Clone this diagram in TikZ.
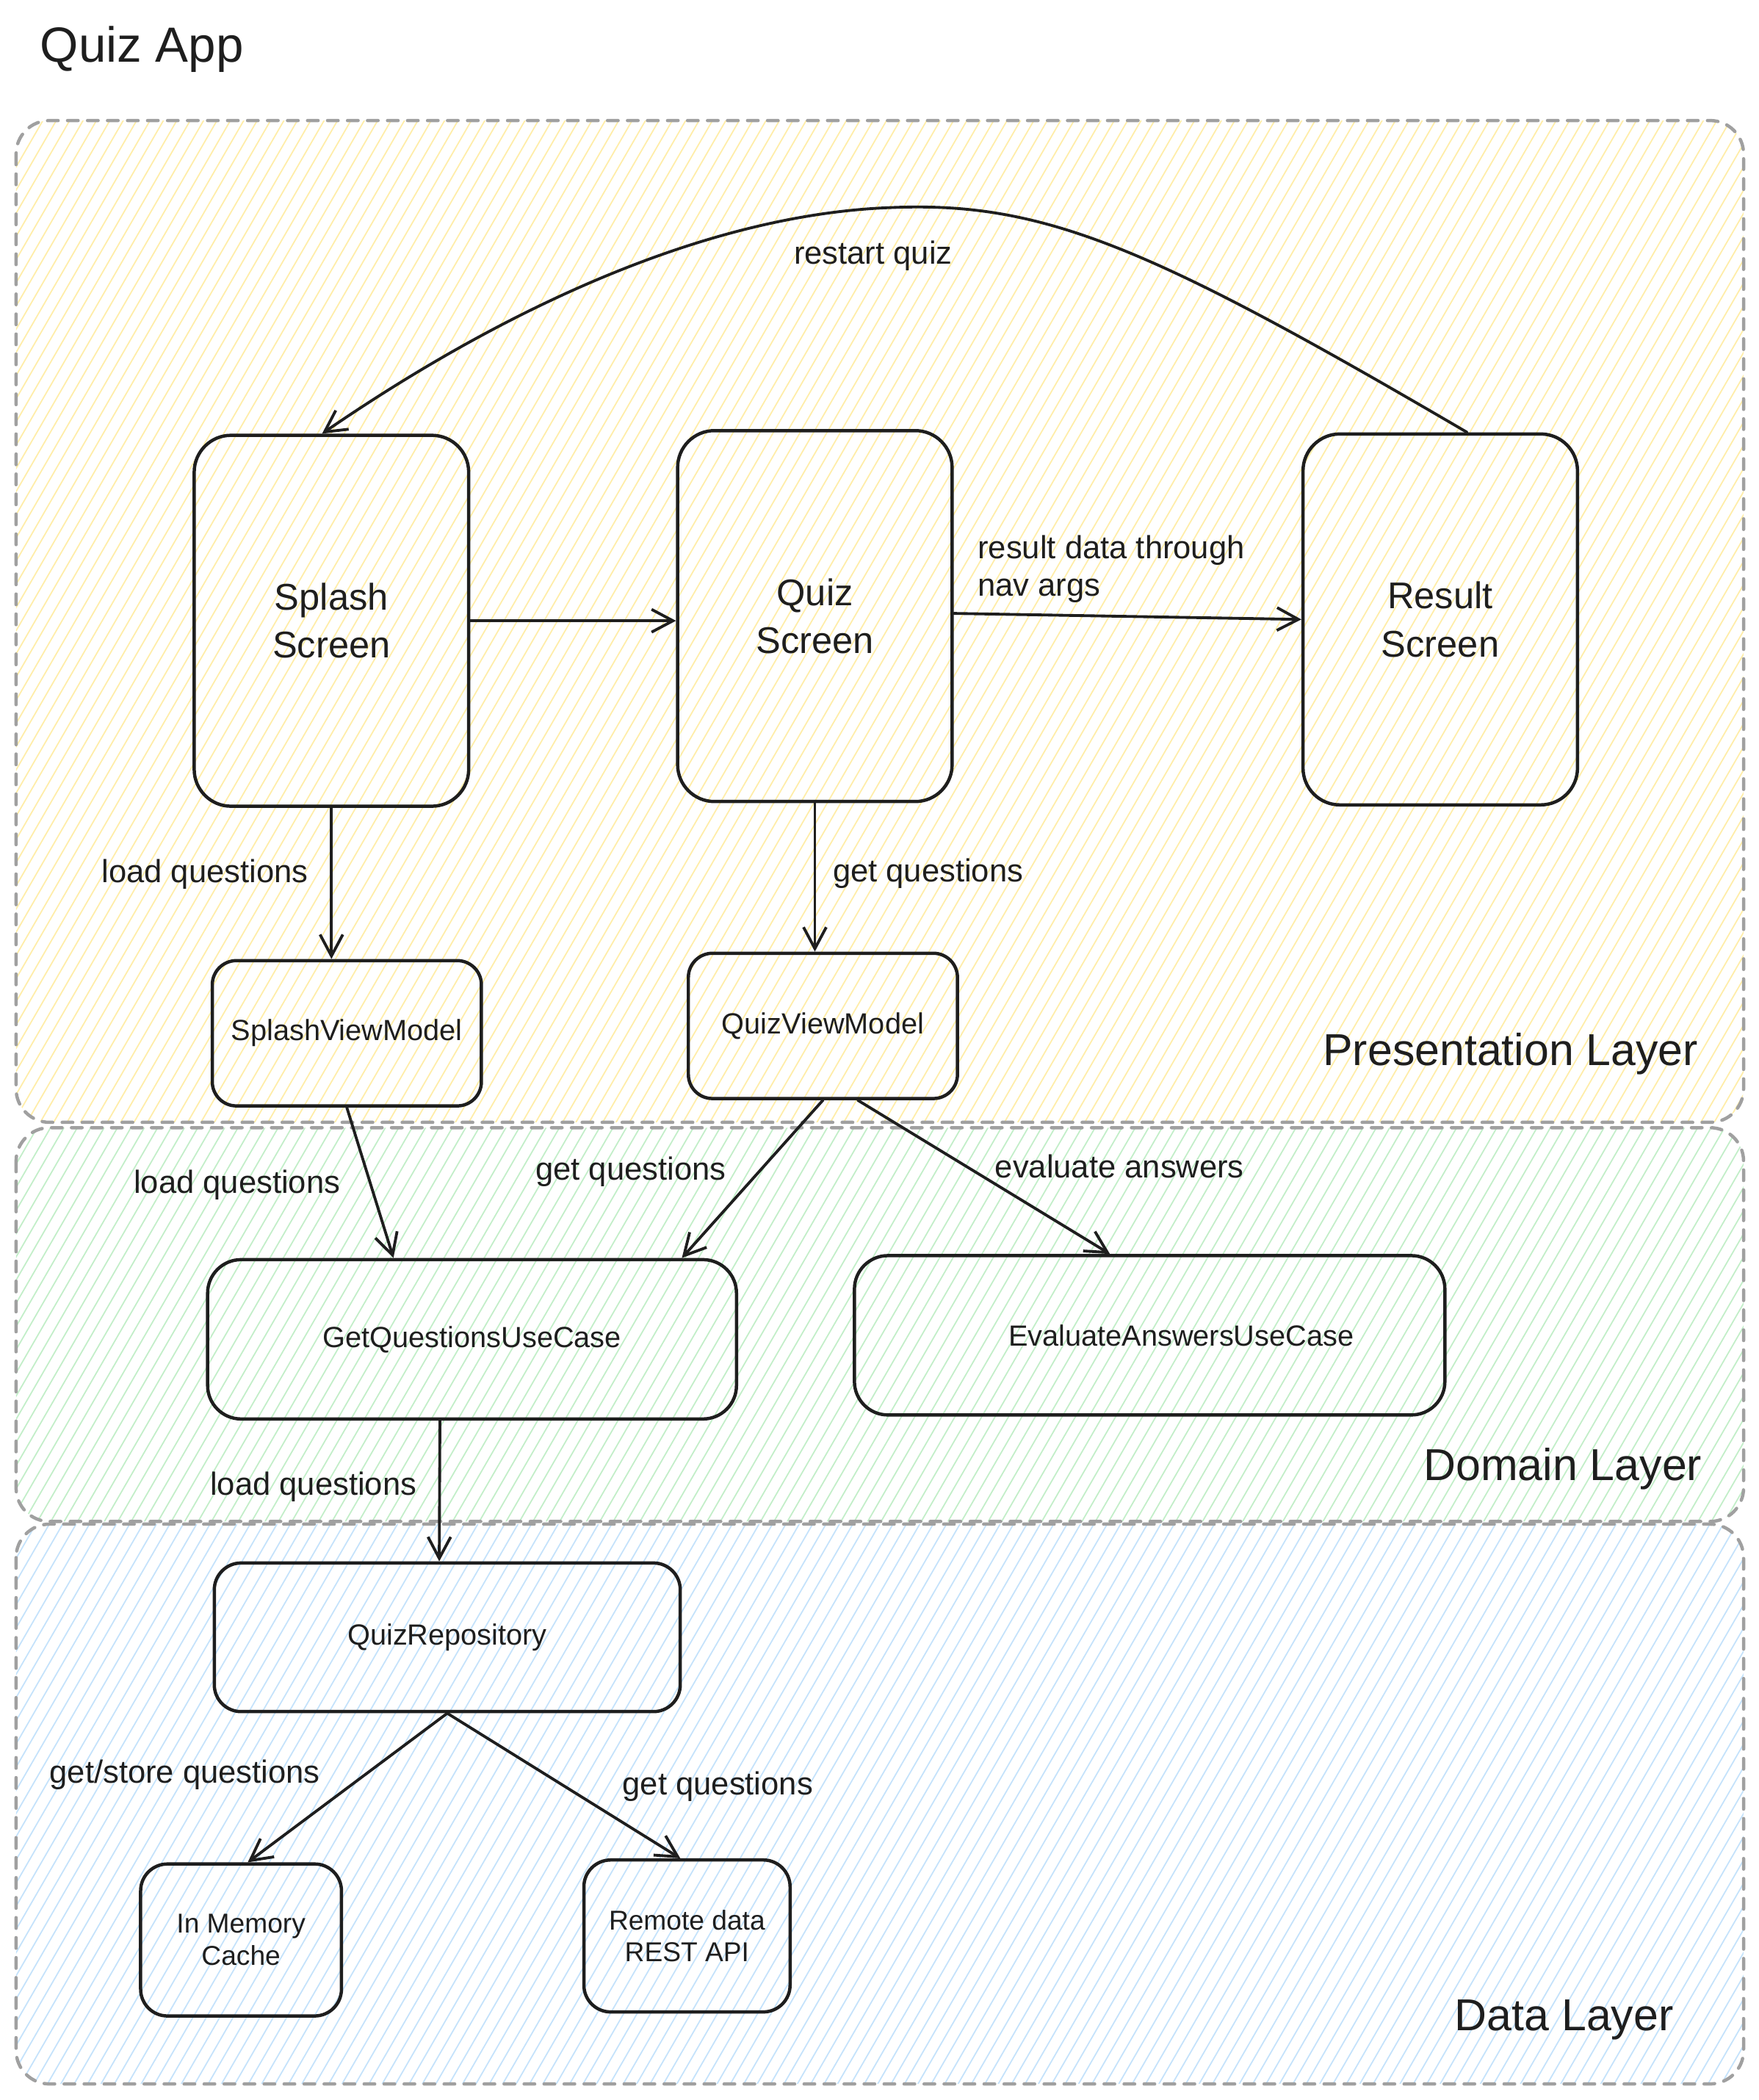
\documentclass[tikz,border=0pt]{standalone}
\usepackage{fontspec}
\setmainfont{Liberation Sans}
\usetikzlibrary{arrows.meta,calc}
\definecolor{ink}{HTML}{1E1E1E}
\definecolor{laygray}{HTML}{A0A0A0}
\definecolor{hatchY}{HTML}{FFEDA8}
\definecolor{hatchG}{HTML}{C2EEC8}
\definecolor{hatchB}{HTML}{C4E2FB}
% hatched background of one layer: colour, corner 1, corner 2
\newcommand{\layerhatch}[5]{%
\begin{scope}
\clip[rounded corners=0.5cm] (#2,#3) rectangle (#4,#5);
\foreach \hx in {-930,-920,...,1310}{\draw[#1,line width=0.55pt] (\hx,1600)--++(924,-1600);}
\end{scope}}
\begin{document}
\begin{tikzpicture}[x=0.02cm,y=-0.02cm,line join=round,line cap=round,>={Straight Barb[length=0.32cm,width=0.34cm]},
every node/.style={text=ink},
layer/.style={draw=laygray,line width=1.4pt,dash pattern=on 4.5pt off 4pt,rounded corners=0.5cm},
screen/.style={draw=ink,line width=1.4pt,rounded corners=0.55cm,minimum width=4.1cm,minimum height=5.54cm,align=center,font=\fontsize{15.8}{20.4}\selectfont},
vm/.style={draw=ink,line width=1.4pt,rounded corners=0.36cm,minimum width=4.02cm,minimum height=2.17cm,font=\fontsize{12.4}{15}\selectfont},
usecase/.style={draw=ink,line width=1.4pt,rounded corners=0.5cm,minimum height=2.38cm,font=\fontsize{12.4}{15}\selectfont},
source/.style={draw=ink,line width=1.4pt,rounded corners=0.4cm,minimum height=2.27cm,align=center,font=\fontsize{11.6}{13.6}\selectfont},
lbl/.style={font=\fontsize{13.6}{15.9}\selectfont},
layertitle/.style={font=\fontsize{19}{22}\selectfont},
flow/.style={->,draw=ink,line width=1.2pt}]
\useasboundingbox (0,0) rectangle (1313,1568);
\node[font=\fontsize{21}{25}\selectfont] (title) at (106,37) {Quiz App};
% layers
\layerhatch{hatchY}{12}{90}{1302}{838}
\layerhatch{hatchG}{12}{842}{1302}{1136}
\layerhatch{hatchB}{12}{1138}{1302}{1556}
\draw[layer] (12,90) rectangle (1302,838);
\draw[layer] (12,842) rectangle (1302,1136);
\draw[layer] (12,1138) rectangle (1302,1556);
\node[layertitle] (presl) at (1128,787) {Presentation Layer};
\node[layertitle] (doml) at (1167,1097) {Domain Layer};
\node[layertitle] (datal) at (1168,1508) {Data Layer};
% screens
\node[screen] (splash) at (247.5,463.5) {Splash\\Screen};
\node[screen] (quiz) at (608.5,460) {Quiz\\Screen};
\node[screen] (result) at (1075.5,462.5) {Result\\Screen};
\node[vm] (splashvm) at (259,771.5) {SplashViewModel};
\node[vm] (quizvm) at (614.5,766) {QuizViewModel};
\node[usecase,minimum width=7.9cm] (getq) at (352.5,1000) {GetQuestionsUseCase};
\node[usecase,minimum width=8.82cm,label={[xshift=0.47cm,font=\fontsize{12.4}{15}\selectfont]center:EvaluateAnswersUseCase}] (evalq) at (858.5,997) {};
\node[usecase,minimum width=6.96cm,minimum height=2.22cm,rounded corners=0.4cm] (repo) at (334,1222.5) {QuizRepository};
\node[source,minimum width=3cm] (cache) at (180,1448.5) {In Memory\\Cache};
\node[source,minimum width=3.08cm] (remote) at (513,1445.5) {Remote data\\REST API};
% connectors
\draw[flow] ($(result.north)+(20,0)$) .. controls (860,185) and (780,150) .. (665,155)
 .. controls (530,160) and (380,228) .. ($(splash.north)+(-7,0)$);
\draw[flow] (splash.east)--(quiz.west|-splash.east);
\draw[flow] ($(quiz.east)+(0,-2)$)--(result.west);
\draw[flow] (splash.south)--(splash.south|-splashvm.north);
\draw[flow] (quiz.south)--(quiz.south|-quizvm.north);
\draw[flow] (splashvm.south)--($(getq.north west)+(140,0)$);
\draw[flow] (quizvm.south)--($(getq.north east)+(-42,0)$);
\draw[flow] ($(quizvm.south)+(26,0)$)--($(evalq.north west)+(192,0)$);
\draw[flow] ($(getq.south)+(-24,0)$)--($(repo.north)+(-6,0)$);
\draw[flow] (repo.south)--($(cache.north)+(5,0)$);
\draw[flow] (repo.south)--($(remote.north)+(-5,0)$);
% labels
\path
(652,191) node[lbl]{restart quiz}
(724,425) node[lbl,anchor=west,align=left]{result data through\\nav args}
(153,653) node[lbl]{load questions}
(693,652) node[lbl]{get questions}
(177,885) node[lbl]{load questions}
(471,875) node[lbl]{get questions}
(836,871) node[lbl]{evaluate answers}
(234,1110) node[lbl]{load questions}
(138,1325) node[lbl]{get/store questions}
(536,1334) node[lbl]{get questions};
\end{tikzpicture}
\end{document}
